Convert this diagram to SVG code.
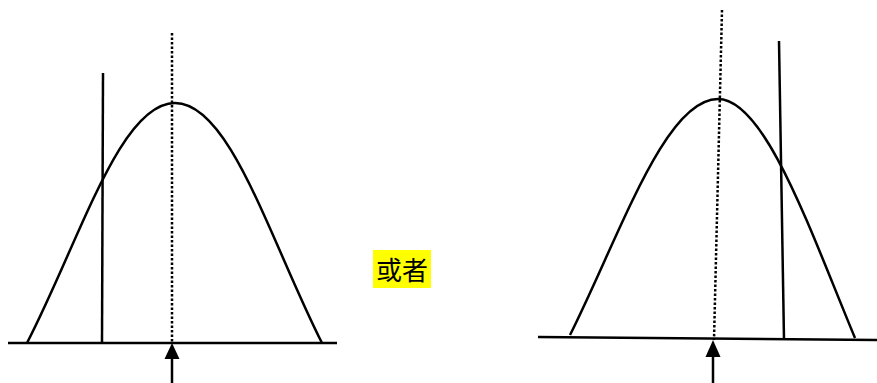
<svg xmlns="http://www.w3.org/2000/svg" width="877" height="383" viewBox="0 0 877 383">
<defs>
<style>
.s{fill:none;stroke:#000;stroke-width:2.5}
.d{fill:none;stroke:#000;stroke-width:2.5;stroke-dasharray:2.5 2}
</style>
</defs>
<rect width="877" height="383" fill="#fff"/>
<g id="left">
<line class="s" x1="8" y1="343" x2="337" y2="343"/>
<path class="s" d="M27,343 C80,240 120,103 175,103 C230,103 270,240 322,343"/>
<line class="s" x1="103" y1="73" x2="102" y2="343"/>
<line class="d" x1="172" y1="33" x2="172" y2="343"/>
</g>
<g id="right">
<line class="s" x1="538" y1="337" x2="877" y2="340"/>
<path class="s" d="M570,335 C620,235 665,99 718,99 C765,99 810,230 855,338"/>
<line class="s" x1="779" y1="41" x2="784" y2="340"/>
<line class="d" x1="722" y1="10" x2="714" y2="340"/>
</g>
<g id="label">
<rect x="373" y="250" width="58" height="38" fill="#ffff00"/>
<text x="402" y="280" font-family="'Noto Sans CJK SC', sans-serif" font-size="26" text-anchor="middle" fill="#000">或者</text>
</g>
<g id="connectors">
<line x1="172" y1="383" x2="172" y2="359" stroke="#000" stroke-width="2.5"/>
<path d="M164.5,359 L172,343 L179.5,359 z" fill="#000"/>
<line x1="713" y1="383" x2="713" y2="357" stroke="#000" stroke-width="2.5"/>
<path d="M705.5,357 L713,340 L720.5,357 z" fill="#000"/>
</g>
</svg>
